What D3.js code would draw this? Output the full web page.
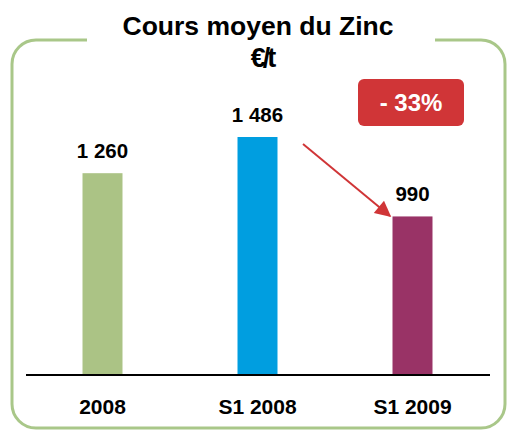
<!DOCTYPE html>
<html>
<head>
<meta charset="utf-8">
<script src="https://cdn.jsdelivr.net/npm/d3@7"></script>
<style>
    body { margin: 0; background: #ffffff; }
    svg { display: block; font-family: "Liberation Sans", Arial, sans-serif; }
</style>
</head>
<body>
<div id="chart"></div>
<script>
// Chart data
var categories = ["2008", "S1 2008", "S1 2009"];
var values = [1260, 1486, 990];
var valueLabels = ["1 260", "1 486", "990"];
var barColors = ["#abc385", "#009ee0", "#993366"];
var changeLabel = "- 33%";

var svgWidth = 507;
var svgHeight = 430;

var svg = d3.select("#chart")
    .append("svg")
    .attr("width", svgWidth)
    .attr("height", svgHeight);

// Green rounded frame, open at the top behind the title
var frame = { left: 12, right: 505, top: 40, bottom: 428, r: 24, gapL: 87, gapR: 435 };
var path = d3.path();
path.moveTo(frame.gapL, frame.top);
path.lineTo(frame.left + frame.r, frame.top);
path.arcTo(frame.left, frame.top, frame.left, frame.top + frame.r, frame.r);
path.lineTo(frame.left, frame.bottom - frame.r);
path.arcTo(frame.left, frame.bottom, frame.left + frame.r, frame.bottom, frame.r);
path.lineTo(frame.right - frame.r, frame.bottom);
path.arcTo(frame.right, frame.bottom, frame.right, frame.bottom - frame.r, frame.r);
path.lineTo(frame.right, frame.top + frame.r);
path.arcTo(frame.right, frame.top, frame.right - frame.r, frame.top, frame.r);
path.lineTo(frame.gapR, frame.top);

svg.append("path")
    .attr("d", path.toString())
    .attr("fill", "none")
    .attr("stroke", "#a9c789")
    .attr("stroke-width", 3);

// Title
svg.append("text")
    .attr("x", 258)
    .attr("y", 35)
    .attr("text-anchor", "middle")
    .style("font-size", "26.5px")
    .style("font-weight", "bold")
    .text("Cours moyen du Zinc");

svg.append("text")
    .attr("x", 262)
    .attr("y", 67)
    .attr("text-anchor", "middle")
    .style("font-size", "27px")
    .style("font-weight", "bold")
    .attr("letter-spacing", "-3")
    .text("€/t");

// Scales
var baseline = 375;
var xScale = d3.scaleBand()
    .domain(categories)
    .range([25, 490])
    .paddingInner(0.742)
    .paddingOuter(0.371);

var yScale = d3.scaleLinear()
    .domain([0, 1486])
    .range([baseline, 137]);

// Bars
svg.append("g")
    .selectAll("rect")
    .data(values)
    .enter()
    .append("rect")
    .attr("x", (d, i) => xScale(categories[i]))
    .attr("y", d => yScale(d))
    .attr("width", xScale.bandwidth())
    .attr("height", d => baseline - yScale(d))
    .attr("fill", (d, i) => barColors[i]);

// Value labels
svg.append("g")
    .selectAll("text")
    .data(values)
    .enter()
    .append("text")
    .attr("x", (d, i) => xScale(categories[i]) + xScale.bandwidth() / 2)
    .attr("y", d => yScale(d) - 15)
    .attr("text-anchor", "middle")
    .style("font-size", "20.5px")
    .style("font-weight", "bold")
    .text((d, i) => valueLabels[i]);

// Axis line
var xAxis = d3.axisBottom(xScale).tickSize(0).tickPadding(24);
var axisG = svg.append("g")
    .attr("transform", `translate(0, ${baseline})`)
    .call(xAxis);
axisG.select(".domain")
    .attr("d", "M26,0H490")
    .attr("stroke", "#000")
    .attr("stroke-width", 2);
axisG.selectAll("text")
    .style("font-family", "'Liberation Sans', Arial, sans-serif")
    .style("font-size", "21px")
    .style("font-weight", "bold")
    .attr("fill", "#000");

// Red change badge
svg.append("rect")
    .attr("x", 358)
    .attr("y", 79)
    .attr("width", 106)
    .attr("height", 47)
    .attr("rx", 6)
    .attr("fill", "#d03537");

svg.append("text")
    .attr("x", 411)
    .attr("y", 111)
    .attr("text-anchor", "middle")
    .attr("fill", "#fff")
    .style("font-size", "24px")
    .style("font-weight", "bold")
    .text(changeLabel);

// Arrow from S1 2008 to S1 2009
svg.append("defs")
    .append("marker")
    .attr("id", "arrowHead")
    .attr("viewBox", "0 0 10 10")
    .attr("refX", 9)
    .attr("refY", 5)
    .attr("markerWidth", 9)
    .attr("markerHeight", 8)
    .attr("markerUnits", "strokeWidth")
    .attr("orient", "auto")
    .append("path")
    .attr("d", "M0,0L10,5L0,10Z")
    .attr("fill", "#d03537");

svg.append("line")
    .attr("x1", 303)
    .attr("y1", 144)
    .attr("x2", 390)
    .attr("y2", 216)
    .attr("stroke", "#d03537")
    .attr("stroke-width", 2)
    .attr("marker-end", "url(#arrowHead)");
</script>
</body>
</html>
